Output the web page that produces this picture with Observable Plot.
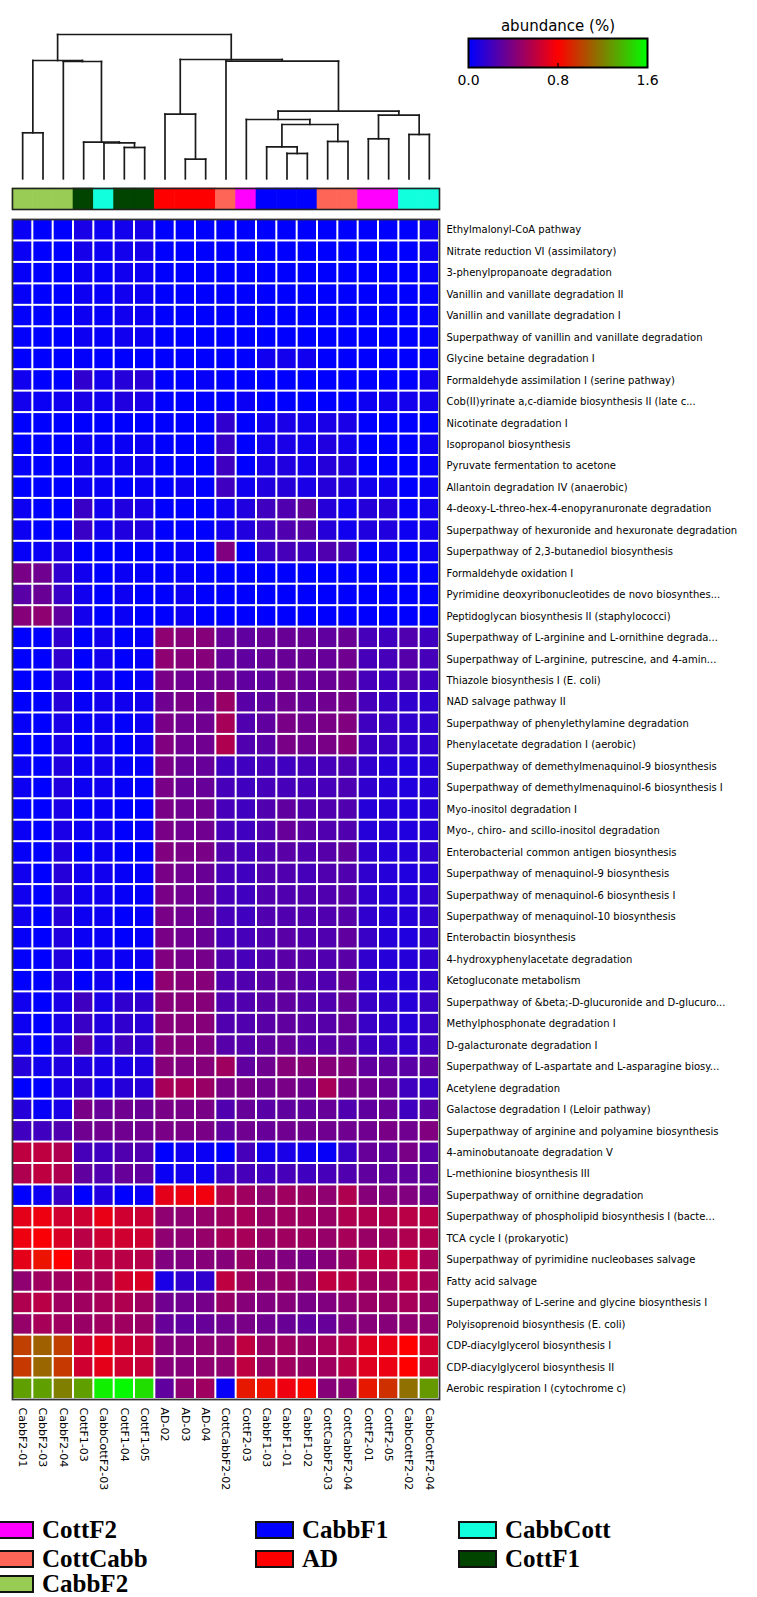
<!DOCTYPE html>
<html>
<head>
<meta charset="utf-8">
<script src="https://cdn.jsdelivr.net/npm/d3@7"></script>
<script src="https://cdn.jsdelivr.net/npm/@observablehq/plot@0.6"></script>
<style>
  html, body { margin: 0; padding: 0; background: #fff; }
  #wrap { position: relative; width: 757px; height: 1597px; overflow: hidden; background: #fff; }
  #wrap > * { position: absolute; }
  .lg-item { position: absolute; display: flex; align-items: center; }
  .lg-sw { width: 35px; height: 14px; border: 2px solid #111; box-sizing: content-box; }
  .lg-tx { font-family: "Liberation Serif", serif; font-weight: bold; font-size: 25px; margin-left: 8px; line-height: 1; color: #000; }
</style>
</head>
<body>
<div id="wrap"></div>
<script>
// ---------------- data ----------------
const samples = ["CabbF2-01","CabbF2-03","CabbF2-04","CottF1-03","CabbCottF2-03","CottF1-04","CottF1-05",
  "AD-02","AD-03","AD-04","CottCabbF2-02","CottF2-03","CabbF1-03","CabbF1-01","CabbF1-02",
  "CottCabbF2-03","CottCabbF2-04","CottF2-01","CottF2-05","CabbCottF2-02","CabbCottF2-04"];
const sampleGroup = ["CabbF2","CabbF2","CabbF2","CottF1","CabbCott","CottF1","CottF1",
  "AD","AD","AD","CottCabb","CottF2","CabbF1","CabbF1","CabbF1",
  "CottCabb","CottCabb","CottF2","CottF2","CabbCott","CabbCott"];
const groupNames  = ["CottF2","CottCabb","CabbF2","CabbF1","AD","CabbCott","CottF1"];
const groupColors = ["#ff00ff","#ff6557","#99cc55","#0000ff","#ff0000","#11ffdd","#004400"];

const pathways = [
  "Ethylmalonyl-CoA pathway",
  "Nitrate reduction VI (assimilatory)",
  "3-phenylpropanoate degradation",
  "Vanillin and vanillate degradation II",
  "Vanillin and vanillate degradation I",
  "Superpathway of vanillin and vanillate degradation",
  "Glycine betaine degradation I",
  "Formaldehyde assimilation I (serine pathway)",
  "Cob(II)yrinate a,c-diamide biosynthesis II (late c...",
  "Nicotinate degradation I",
  "Isopropanol biosynthesis",
  "Pyruvate fermentation to acetone",
  "Allantoin degradation IV (anaerobic)",
  "4-deoxy-L-threo-hex-4-enopyranuronate degradation",
  "Superpathway of hexuronide and hexuronate degradation",
  "Superpathway of 2,3-butanediol biosynthesis",
  "Formaldehyde oxidation I",
  "Pyrimidine deoxyribonucleotides de novo biosynthes...",
  "Peptidoglycan biosynthesis II (staphylococci)",
  "Superpathway of L-arginine and L-ornithine degrada...",
  "Superpathway of L-arginine, putrescine, and 4-amin...",
  "Thiazole biosynthesis I (E. coli)",
  "NAD salvage pathway II",
  "Superpathway of phenylethylamine degradation",
  "Phenylacetate degradation I (aerobic)",
  "Superpathway of demethylmenaquinol-9 biosynthesis",
  "Superpathway of demethylmenaquinol-6 biosynthesis I",
  "Myo-inositol degradation I",
  "Myo-, chiro- and scillo-inositol degradation",
  "Enterobacterial common antigen biosynthesis",
  "Superpathway of menaquinol-9 biosynthesis",
  "Superpathway of menaquinol-6 biosynthesis I",
  "Superpathway of menaquinol-10 biosynthesis",
  "Enterobactin biosynthesis",
  "4-hydroxyphenylacetate degradation",
  "Ketogluconate metabolism",
  "Superpathway of &beta;-D-glucuronide and D-glucuro...",
  "Methylphosphonate degradation I",
  "D-galacturonate degradation I",
  "Superpathway of L-aspartate and L-asparagine biosy...",
  "Acetylene degradation",
  "Galactose degradation I (Leloir pathway)",
  "Superpathway of arginine and polyamine biosynthesis",
  "4-aminobutanoate degradation V",
  "L-methionine biosynthesis III",
  "Superpathway of ornithine degradation",
  "Superpathway of phospholipid biosynthesis I (bacte...",
  "TCA cycle I (prokaryotic)",
  "Superpathway of pyrimidine nucleobases salvage",
  "Fatty acid salvage",
  "Superpathway of L-serine and glycine biosynthesis I",
  "Polyisoprenoid biosynthesis (E. coli)",
  "CDP-diacylglycerol biosynthesis I",
  "CDP-diacylglycerol biosynthesis II",
  "Aerobic respiration I (cytochrome c)"
];

// abundance (%) : one row per pathway, one value per sample (column order above)
const abundance = [
  [0.03,0,0,0.08,0.04,0.06,0.07,0,0,0,0,0,0,0,0,0,0,0,0,0,0.04],
  [0.03,0,0,0.07,0.04,0.06,0.07,0,0,0,0,0,0,0,0,0,0,0,0,0,0.04],
  [0.02,0,0,0.04,0.02,0.05,0.04,0,0,0,0,0,0,0,0,0,0,0,0,0,0.02],
  [0.02,0,0,0.04,0.02,0.05,0.04,0,0,0,0,0,0,0,0,0,0,0,0,0,0.01],
  [0.01,0,0,0.04,0.02,0.05,0.04,0,0,0,0,0,0,0,0,0,0,0,0,0,0.01],
  [0.01,0,0,0.04,0.02,0.05,0.04,0,0,0,0,0,0,0,0,0,0,0,0,0,0.01],
  [0,0,0,0.01,0,0,0,0,0,0,0,0,0.05,0.06,0.05,0,0,0,0,0,0.01],
  [0.05,0,0,0.15,0.06,0.12,0.13,0,0,0.02,0,0,0,0,0,0,0,0,0,0,0.05],
  [0.06,0.03,0.05,0.08,0.05,0.1,0.08,0,0,0,0,0.03,0,0,0,0,0,0.04,0.05,0.06,0.06],
  [0,0,0,0,0,0,0,0,0,0,0.15,0,0.05,0.08,0.06,0.08,0.08,0,0,0,0],
  [0,0,0,0.04,0.02,0.03,0.04,0,0,0,0.18,0,0.06,0.08,0.06,0.1,0.06,0,0,0,0.04],
  [0.02,0,0,0.05,0.03,0.04,0.05,0,0,0,0.2,0,0.08,0.1,0.07,0.12,0.1,0,0,0,0.02],
  [0,0,0,0.04,0.03,0,0.03,0,0.04,0,0.2,0.05,0.1,0.12,0.08,0.12,0.1,0.06,0.05,0,0.03],
  [0.04,0,0,0.18,0.05,0.1,0.08,0,0,0,0.05,0.1,0.2,0.25,0.3,0.12,0.05,0.12,0.12,0.02,0.06],
  [0.04,0,0,0.18,0.05,0.1,0.1,0,0,0,0.05,0.1,0.2,0.25,0.27,0.12,0.05,0.1,0.1,0.04,0.06],
  [0.02,0.03,0.08,0,0,0,0,0,0.03,0,0.4,0,0.18,0.22,0.2,0.25,0.22,0,0.04,0,0.04],
  [0.38,0.35,0.15,0.05,0,0.03,0.02,0,0.02,0,0,0,0,0,0,0,0,0,0,0,0],
  [0.28,0.33,0.18,0.05,0,0.04,0,0,0.04,0,0,0,0,0,0,0,0,0,0,0,0],
  [0.42,0.45,0.3,0.06,0,0.03,0,0,0.04,0,0,0,0,0,0,0,0,0,0,0,0],
  [0,0,0.15,0,0.06,0,0.02,0.45,0.42,0.42,0.32,0.3,0.32,0.33,0.32,0.3,0.33,0.22,0.2,0.25,0.2],
  [0,0,0.15,0,0.06,0,0.02,0.45,0.42,0.42,0.32,0.3,0.32,0.33,0.33,0.32,0.35,0.22,0.22,0.27,0.22],
  [0,0,0.12,0,0.05,0,0.03,0.38,0.35,0.35,0.35,0.3,0.3,0.35,0.32,0.33,0.35,0.22,0.2,0.25,0.2],
  [0,0,0.12,0.02,0.06,0.05,0.06,0.35,0.38,0.35,0.48,0.28,0.3,0.35,0.32,0.35,0.37,0.22,0.18,0.15,0.15],
  [0.02,0,0.08,0.02,0.04,0.01,0.04,0.38,0.35,0.35,0.52,0.25,0.3,0.38,0.35,0.38,0.4,0.2,0.18,0.15,0.15],
  [0,0,0.08,0,0.05,0,0.04,0.4,0.35,0.35,0.55,0.25,0.28,0.38,0.35,0.38,0.42,0.2,0.18,0.15,0.15],
  [0.03,0,0.1,0.04,0.06,0.02,0.02,0.38,0.33,0.32,0.2,0.2,0.22,0.2,0.22,0.22,0.24,0.15,0.12,0.1,0.12],
  [0.04,0,0.1,0.04,0.05,0.02,0.01,0.38,0.33,0.32,0.22,0.2,0.22,0.22,0.22,0.22,0.24,0.15,0.12,0.1,0.12],
  [0.01,0,0.08,0.01,0.03,0,0,0.38,0.35,0.35,0.22,0.2,0.25,0.3,0.25,0.25,0.25,0.12,0.12,0.1,0.12],
  [0.03,0,0.08,0.04,0.05,0,0.02,0.38,0.35,0.35,0.22,0.2,0.25,0.32,0.28,0.25,0.25,0.12,0.12,0.1,0.12],
  [0.02,0,0.1,0,0.04,0,0,0.4,0.38,0.38,0.25,0.22,0.25,0.28,0.25,0.27,0.3,0.15,0.12,0.12,0.15],
  [0.05,0,0.12,0.05,0.05,0.02,0.02,0.38,0.35,0.33,0.22,0.2,0.25,0.25,0.22,0.25,0.25,0.15,0.12,0.1,0.12],
  [0.05,0,0.12,0.05,0.05,0.02,0.02,0.38,0.35,0.33,0.22,0.2,0.25,0.25,0.25,0.25,0.27,0.15,0.12,0.12,0.15],
  [0.05,0,0.12,0.04,0.04,0,0.02,0.38,0.35,0.33,0.22,0.2,0.25,0.25,0.25,0.25,0.27,0.15,0.12,0.12,0.15],
  [0.02,0,0.1,0.03,0.03,0,0.02,0.38,0.35,0.33,0.22,0.22,0.25,0.28,0.25,0.25,0.3,0.18,0.12,0.1,0.15],
  [0.01,0,0.1,0.02,0.05,0.03,0.04,0.4,0.37,0.37,0.25,0.22,0.25,0.28,0.27,0.25,0.28,0.15,0.12,0.12,0.15],
  [0,0,0.1,0,0.05,0,0,0.45,0.42,0.42,0.25,0.25,0.28,0.3,0.27,0.25,0.32,0.15,0.12,0.12,0.15],
  [0.05,0,0.08,0.2,0.08,0.15,0.15,0.42,0.42,0.42,0.25,0.25,0.28,0.3,0.27,0.25,0.32,0.18,0.15,0.12,0.18],
  [0.04,0,0.08,0.18,0.1,0.15,0.13,0.42,0.42,0.42,0.25,0.25,0.28,0.3,0.28,0.27,0.32,0.18,0.15,0.12,0.18],
  [0.05,0,0.1,0.3,0.12,0.2,0.15,0.42,0.42,0.4,0.27,0.27,0.3,0.32,0.28,0.28,0.3,0.2,0.18,0.15,0.2],
  [0.12,0.06,0.1,0.1,0.08,0.08,0.1,0.42,0.4,0.42,0.5,0.3,0.35,0.42,0.42,0.42,0.4,0.3,0.3,0.28,0.3],
  [0,0,0.08,0.15,0.07,0.12,0.12,0.52,0.52,0.48,0.38,0.38,0.35,0.38,0.35,0.52,0.38,0.35,0.32,0.2,0.18],
  [0.12,0.02,0.08,0.38,0.32,0.35,0.33,0.38,0.38,0.38,0.25,0.32,0.28,0.3,0.3,0.32,0.25,0.3,0.32,0.2,0.28],
  [0.2,0.2,0.25,0.35,0.35,0.35,0.35,0.38,0.38,0.38,0.3,0.35,0.32,0.35,0.35,0.35,0.35,0.35,0.38,0.35,0.4],
  [0.6,0.6,0.55,0.22,0.2,0.25,0.25,0,0.05,0.03,0,0.22,0.06,0.08,0.05,0.02,0.18,0.32,0.3,0.38,0.28],
  [0.55,0.6,0.55,0.3,0.25,0.32,0.3,0.03,0.06,0.05,0.18,0.22,0.2,0.22,0.2,0.22,0.25,0.3,0.3,0.3,0.3],
  [0,0.04,0.18,0,0.1,0,0.03,0.72,0.74,0.76,0.55,0.5,0.45,0.5,0.48,0.45,0.55,0.42,0.4,0.4,0.35],
  [0.72,0.75,0.65,0.64,0.73,0.65,0.63,0.45,0.45,0.47,0.5,0.52,0.48,0.5,0.5,0.48,0.55,0.55,0.55,0.58,0.58],
  [0.75,0.78,0.68,0.58,0.64,0.65,0.64,0.45,0.45,0.47,0.52,0.52,0.48,0.5,0.5,0.47,0.52,0.48,0.5,0.55,0.55],
  [0.72,0.86,0.8,0.58,0.58,0.58,0.57,0.4,0.4,0.42,0.42,0.48,0.42,0.4,0.38,0.42,0.48,0.58,0.6,0.62,0.52],
  [0.45,0.5,0.5,0.52,0.52,0.65,0.68,0.08,0.15,0.15,0.6,0.5,0.45,0.48,0.45,0.6,0.58,0.5,0.5,0.58,0.52],
  [0.55,0.58,0.5,0.5,0.52,0.55,0.5,0.35,0.35,0.37,0.48,0.42,0.4,0.42,0.38,0.4,0.45,0.48,0.48,0.52,0.48],
  [0.47,0.52,0.5,0.48,0.5,0.5,0.48,0.32,0.3,0.32,0.35,0.38,0.35,0.33,0.3,0.32,0.4,0.42,0.42,0.45,0.45],
  [1.0,1.1,1.0,0.65,0.72,0.65,0.62,0.42,0.42,0.45,0.45,0.6,0.48,0.5,0.48,0.52,0.58,0.7,0.74,0.8,0.65],
  [0.98,1.12,0.98,0.65,0.72,0.65,0.62,0.42,0.42,0.45,0.45,0.6,0.48,0.5,0.48,0.5,0.58,0.7,0.74,0.8,0.65],
  [1.3,1.3,1.2,1.3,1.55,1.58,1.5,0.3,0.45,0.5,0.02,0.88,0.85,0.75,0.82,0.42,0.45,0.88,0.95,1.15,1.28]
];

// colour scale
const colorDomain = [0, 0.8, 1.6];
const colorRange  = ["#0000ff", "#ff0000", "#00ff00"];
const colorTicks  = [0, 0.8, 1.6];
const colorTitle  = "abundance (%)";

// hierarchical clustering merges: [childA, childB, height]; ids < 21 are samples, >= 21 are earlier merges
const merges = [
  [0, 1, 1.38],   // 21
  [5, 6, 0.94],   // 22
  [4, 22, 1.08],  // 23
  [3, 23, 1.10],  // 24
  [2, 24, 3.52],  // 25
  [21, 25, 3.55], // 26
  [8, 9, 0.59],   // 27
  [7, 27, 1.94],  // 28
  [13, 14, 0.76], // 29
  [12, 29, 0.96], // 30
  [15, 16, 1.12], // 31
  [30, 31, 1.63], // 32
  [11, 32, 1.78], // 33
  [17, 18, 1.20], // 34
  [19, 20, 1.33], // 35
  [34, 35, 1.91], // 36
  [33, 36, 2.03], // 37
  [10, 37, 3.53], // 38
  [28, 38, 3.58], // 39
  [26, 39, 4.33]  // 40
];

// bottom legend layout (column of entries)
const legendCols = [
  ["CottF2", "CottCabb", "CabbF2"],
  ["CabbF1", "AD"],
  ["CabbCott", "CottF1"]
];

// ---------------- layout ----------------
const W = 757;
const hmLeft = 12, hmRight = 439, hmTop = 219, hmBottom = 1399;
const font = "DejaVu Sans";
const wrap = document.getElementById("wrap");
function place(el, left, top) { el.style.left = left + "px"; el.style.top = top + "px"; wrap.appendChild(el); return el; }

const colorScale = {type: "linear", domain: colorDomain, range: colorRange, interpolate: "rgb"};
const groupScale = {type: "ordinal", domain: groupNames, range: groupColors};

// ---- dendrogram ----
const nLeaf = samples.length;
const nodeX = [], nodeH = [];
for (let i = 0; i < nLeaf; i++) { nodeX[i] = i; nodeH[i] = 0; }
const segs = [];
merges.forEach(([a, b, h], k) => {
  const id = nLeaf + k;
  nodeX[id] = (nodeX[a] + nodeX[b]) / 2; nodeH[id] = h;
  segs.push({x1: nodeX[a], y1: nodeH[a], x2: nodeX[a], y2: h});
  segs.push({x1: nodeX[a], y1: h, x2: nodeX[b], y2: h});
  segs.push({x1: nodeX[b], y1: nodeH[b], x2: nodeX[b], y2: h});
});
const dendro = Plot.plot({
  width: W, height: 186,
  style: {fontFamily: font, background: "transparent", overflow: "visible"},
  x: {domain: [-0.5, nLeaf - 0.5], range: [hmLeft, hmRight], axis: null},
  y: {domain: [0, 4.33], range: [178.3, 34], axis: null},
  marks: [
    Plot.link(segs, {x1: "x1", y1: "y1", x2: "x2", y2: "y2", stroke: "#1a1a1a", strokeWidth: 1.7, strokeLinecap: "square"})
  ]
});
place(dendro, 0, 0);

// ---- group colour bar ----
const groupBar = Plot.plot({
  width: W, height: 25,
  marginLeft: hmLeft, marginRight: W - hmRight, marginTop: 2, marginBottom: 2,
  style: {fontFamily: font, background: "transparent", overflow: "visible"},
  x: {domain: samples, padding: 0, round: false, axis: null},
  color: groupScale,
  marks: [
    Plot.cell(samples.map((s, i) => ({sample: s, group: sampleGroup[i]})), {x: "sample", fill: "group", stroke: "group", strokeWidth: 0.6}),
    Plot.frame({stroke: "#222", strokeWidth: 1.6})
  ]
});
place(groupBar, 0, 186);

// ---- heatmap ----
const cells = pathways.flatMap((p, i) => samples.map((s, j) => ({pathway: p, sample: s, value: abundance[i][j]})));
const hmMarginBottom = 100;
const heat = Plot.plot({
  width: W, height: (hmBottom - hmTop) + 2 + hmMarginBottom,
  marginLeft: hmLeft, marginRight: W - hmRight, marginTop: 2, marginBottom: hmMarginBottom,
  style: {fontFamily: font, background: "transparent", overflow: "visible", color: "#000"},
  x: {domain: samples, padding: 0, round: false, label: null},
  y: {domain: pathways, padding: 0, round: false, label: null},
  color: colorScale,
  marks: [
    Plot.cell(cells, {x: "sample", y: "pathway", fill: "value", inset: 1}),
    Plot.frame({stroke: "#333", strokeWidth: 1.8}),
    Plot.axisY({anchor: "right", tickSize: 0, tickPadding: 7, fontSize: 10, label: null}),
    Plot.axisX({anchor: "bottom", tickSize: 0, tickPadding: 8, tickRotate: 90, fontSize: 11, label: null})
  ]
});
place(heat, 0, hmTop - 2);

// ---- colour legend ----
const legLeft = 440, legW = 240;
const legend = Plot.plot({
  width: legW, height: 100,
  marginLeft: 468 - legLeft, marginRight: legW - (647 - legLeft), marginTop: 38, marginBottom: 33,
  style: {fontFamily: font, background: "transparent", overflow: "visible", color: "#000"},
  x: {domain: [colorDomain[0], colorDomain[colorDomain.length - 1]], label: null},
  y: {domain: [0, 1], axis: null},
  color: colorScale,
  marks: [
    Plot.raster({fill: (x, y) => x, x1: 0, x2: 1.6, y1: 0, y2: 1, width: 240, height: 2, imageRendering: "auto"}),
    Plot.ruleX([colorTicks[1]], {y1: 0, y2: 0.14, stroke: "#000", strokeWidth: 1.2}),
    Plot.frame({stroke: "#000", strokeWidth: 2}),
    Plot.axisX({ticks: colorTicks, tickFormat: d3.format(".1f"), tickSize: 0, tickPadding: 8, fontSize: 14, label: null}),
    Plot.text([colorTitle], {frameAnchor: "top", dy: -18, fontSize: 15})
  ]
});
place(legend, legLeft, 0);

// ---- group legend ----
const colX = [-5, 255, 458];
const rowY = [1517, 1546, 1571];
legendCols.forEach((col, ci) => {
  col.forEach((g, ri) => {
    const item = document.createElement("div");
    item.className = "lg-item";
    const sw = document.createElement("div");
    sw.className = "lg-sw";
    sw.style.background = groupColors[groupNames.indexOf(g)];
    const tx = document.createElement("span");
    tx.className = "lg-tx";
    tx.textContent = g;
    item.appendChild(sw); item.appendChild(tx);
    place(item, colX[ci], rowY[ri]);
  });
});
</script>
</body>
</html>
